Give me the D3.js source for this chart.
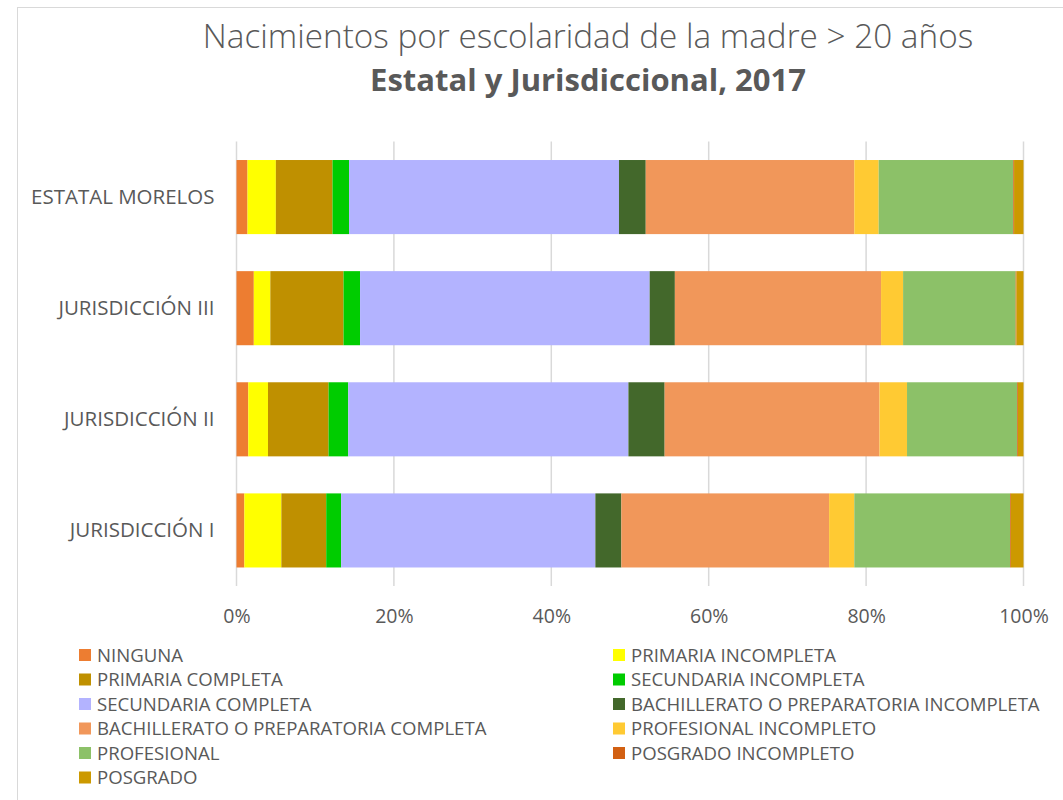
<!DOCTYPE html>
<html>
  <head>
    <meta charset="utf-8">
    <script src="https://d3js.org/d3.v7.min.js"></script>
    <style>
      body { margin: 0; background: #fff; }
      text { font-family: "Open Sans", "Noto Sans", sans-serif; fill: #595959; }
    </style>
  </head>
  <body>
    <div id="chart"></div>
    <script type="text/javascript">
    // categories (top to bottom)
    var regiones = ["ESTATAL MORELOS", "JURISDICCIÓN III", "JURISDICCIÓN II", "JURISDICCIÓN I"];

    // education levels, in stacking order
    var niveles = ["NINGUNA", "PRIMARIA INCOMPLETA", "PRIMARIA COMPLETA", "SECUNDARIA INCOMPLETA",
      "SECUNDARIA COMPLETA", "BACHILLERATO O PREPARATORIA INCOMPLETA",
      "BACHILLERATO O PREPARATORIA COMPLETA", "PROFESIONAL INCOMPLETO", "PROFESIONAL",
      "POSGRADO INCOMPLETO", "POSGRADO"];

    var colores = ["#ED7D31", "#FFFF00", "#BF9000", "#00CC00", "#B3B3FF", "#43682B",
      "#F1975A", "#FFCA33", "#8CC168", "#D26012", "#CC9900"];

    // percent of births per region, one array per level (same order as regiones)
    var ninguna        = [1.4, 2.2, 1.5, 1.0];
    var primInc        = [3.6, 2.1, 2.5, 4.7];
    var primComp       = [7.2, 9.3, 7.7, 5.7];
    var secInc         = [2.1, 2.1, 2.5, 1.9];
    var secComp        = [34.3, 36.8, 35.6, 32.3];
    var bachInc        = [3.4, 3.2, 4.6, 3.3];
    var bachComp       = [26.5, 26.2, 27.3, 26.4];
    var profInc        = [3.1, 2.8, 3.5, 3.2];
    var profesional    = [17.1, 14.3, 14.0, 19.8];
    var posgradoInc    = [0.1, 0.1, 0.1, 0.1];
    var posgrado       = [1.2, 0.9, 0.7, 1.6];

    var series = [ninguna, primInc, primComp, secInc, secComp, bachInc, bachComp,
      profInc, profesional, posgradoInc, posgrado];

    var ticks = [0, 20, 40, 60, 80, 100];

    var width = 1063, height = 800;

    var svg = d3.select("#chart").append("svg")
      .attr("width", width)
      .attr("height", height);

    // chart area border
    svg.append("rect")
      .attr("x", 17.5).attr("y", 7.5)
      .attr("width", 1100).attr("height", 900)
      .attr("fill", "none")
      .attr("stroke", "#d9d9d9");

    // title
    svg.append("text")
      .attr("x", 588).attr("y", 48)
      .attr("text-anchor", "middle")
      .style("font-size", "33.3px")
      .style("font-weight", "300")
      .text("Nacimientos por escolaridad de la madre > 20 años");
    svg.append("text")
      .attr("x", 588).attr("y", 91)
      .attr("text-anchor", "middle")
      .style("font-size", "31px")
      .style("font-weight", "bold")
      .text("Estatal y Jurisdiccional, 2017");

    var x = d3.scaleLinear().domain([0, 100]).range([236.5, 1023.5]);
    var y = d3.scaleBand().domain(regiones).range([141.5, 586]).paddingInner(1 / 3).paddingOuter(1 / 6);

    // gridlines
    svg.append("g").selectAll("line")
      .data(ticks)
      .enter().append("line")
      .attr("x1", function(d) { return x(d); })
      .attr("x2", function(d) { return x(d); })
      .attr("y1", 141.5).attr("y2", 586)
      .attr("stroke", "#d9d9d9")
      .attr("stroke-width", 1.5);

    // stacked bars
    var stacked = d3.stack()
      .keys(d3.range(series.length))
      .value(function(d, k) { return series[k][d]; })(d3.range(regiones.length));

    svg.append("g").selectAll("g")
      .data(stacked)
      .enter().append("g")
      .attr("fill", function(d, i) { return colores[i]; })
      .selectAll("rect")
      .data(function(d) { return d; })
      .enter().append("rect")
      .attr("x", function(d) { return x(d[0]); })
      .attr("width", function(d) { return x(d[1]) - x(d[0]); })
      .attr("y", function(d) { return y(regiones[d.data]); })
      .attr("height", y.bandwidth());

    // x axis
    var xAxis = svg.append("g")
      .attr("transform", "translate(0,586)")
      .call(d3.axisBottom(x).tickValues(ticks).tickSize(0).tickPadding(23)
        .tickFormat(function(d) { return d + "%"; }));
    xAxis.select(".domain").remove();
    xAxis.selectAll("text")
      .style("font-size", "19.5px")
      .attr("fill", "#595959");

    // y axis
    var yAxis = svg.append("g")
      .attr("transform", "translate(236.5,0)")
      .call(d3.axisLeft(y).tickSize(0).tickPadding(22));
    yAxis.select(".domain").remove();
    yAxis.selectAll("text")
      .style("font-size", "20.5px")
      .attr("fill", "#595959");

    // legend, two columns
    var legend = svg.append("g").selectAll("g")
      .data(niveles)
      .enter().append("g")
      .attr("transform", function(d, i) {
        var col = i % 2, row = Math.floor(i / 2);
        return "translate(" + (col ? 613 : 79) + "," + (655 + row * 24.5) + ")";
      });
    legend.append("rect")
      .attr("x", 0).attr("y", -6)
      .attr("width", 12).attr("height", 12)
      .attr("fill", function(d, i) { return colores[i]; });
    legend.append("text")
      .attr("x", 18).attr("y", 0)
      .attr("dy", "0.35em")
      .style("font-size", "18.6px")
      .text(function(d) { return d; });
    </script>
  </body>
</html>
